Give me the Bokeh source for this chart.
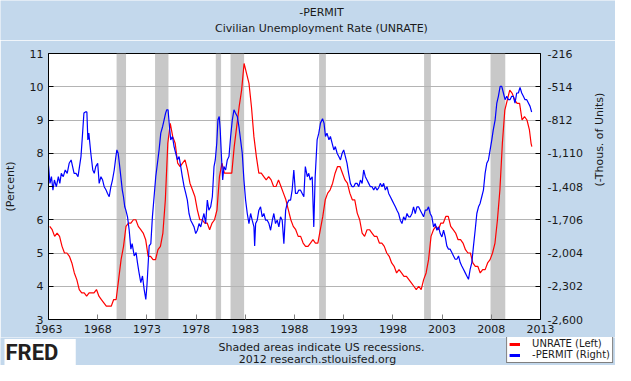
import numpy as np
from bokeh.plotting import figure
from bokeh.layouts import column
from bokeh.models import (Range1d, LinearAxis, FixedTicker, NumeralTickFormatter,
                          PrintfTickFormatter, Label, Legend, LegendItem)
from bokeh.embed import file_html
from bokeh.resources import INLINE

# ---------------- data ----------------
title_top = "-PERMIT"
title_bottom = "Civilian Unemployment Rate (UNRATE)"
left_label = "(Percent)"
right_label = "(-Thous. of Units)"
footer1 = "Shaded areas indicate US recessions."
footer2 = "2012 research.stlouisfed.org"
series_names = ["UNRATE (Left)", "-PERMIT (Right)"]

year_ticks = [1963, 1968, 1973, 1978, 1983, 1988, 1993, 1998, 2003, 2008, 2013]
left_ticks = [3, 4, 5, 6, 7, 8, 9, 10, 11]
right_ticks = [-2600, -2302, -2004, -1706, -1408, -1110, -812, -514, -216]

# UNRATE, quarterly values 1963Q1 .. 2011Q4, then early 2012 months
unrate_first_year = 1963
unrate_q = [
    5.8, 5.7, 5.5, 5.6,  5.5, 5.2, 5.0, 5.0,  4.9, 4.7, 4.4, 4.2,  3.9, 3.8, 3.8, 3.7,
    3.8, 3.8, 3.8, 3.9,  3.7, 3.6, 3.5, 3.4,  3.4, 3.4, 3.6, 3.6,  4.2, 4.8, 5.2, 5.8,
    5.9, 5.9, 6.0, 6.0,  5.8, 5.7, 5.6, 5.4,  4.9, 4.9, 4.8, 4.8,  5.1, 5.2, 5.6, 6.6,
    8.3, 8.9, 8.5, 8.3,  7.7, 7.6, 7.7, 7.8,  7.5, 7.1, 6.9, 6.7,  6.3, 6.0, 6.0, 5.9,
    5.9, 5.7, 5.9, 6.0,  6.3, 7.3, 7.7, 7.4,  7.4, 7.4, 7.4, 8.2,  8.8, 9.4, 9.9, 10.7,
    10.4, 10.1, 9.4, 8.5, 7.9, 7.4, 7.4, 7.3, 7.2, 7.3, 7.2, 7.0,  7.0, 7.2, 7.0, 6.8,
    6.6, 6.3, 6.0, 5.8,  5.7, 5.5, 5.5, 5.3,  5.2, 5.2, 5.3, 5.4,  5.3, 5.3, 5.7, 6.1,
    6.6, 6.8, 6.9, 7.1,  7.4, 7.6, 7.6, 7.4,  7.2, 7.1, 6.8, 6.6,  6.6, 6.2, 6.0, 5.6,
    5.5, 5.7, 5.7, 5.6,  5.5, 5.5, 5.3, 5.3,  5.2, 5.0, 4.9, 4.7,  4.6, 4.4, 4.5, 4.4,
    4.3, 4.3, 4.2, 4.1,  4.0, 3.9, 4.0, 3.9,  4.2, 4.4, 4.8, 5.5,  5.7, 5.8, 5.7, 5.9,
    5.9, 6.1, 6.1, 5.8,  5.7, 5.6, 5.4, 5.4,  5.3, 5.1, 5.0, 5.0,  4.7, 4.6, 4.6, 4.4,
    4.5, 4.5, 4.7, 4.8,  5.0, 5.3, 6.0, 6.9,  8.3, 9.3, 9.6, 9.9,  9.8, 9.6, 9.5, 9.5,
    9.0, 9.1, 9.0, 8.7,
]
unrate_tail_dates = [2012.04, 2012.12]
unrate_tail = [8.3, 8.2]

# -PERMIT (thousands of units, negated)
permit_dates = [
    1963.00, 1963.15, 1963.30, 1963.45, 1963.60, 1963.80, 1964.00, 1964.15, 1964.30, 1964.50,
    1964.70, 1964.90, 1965.10, 1965.30, 1965.45, 1965.60, 1965.80, 1966.00, 1966.15, 1966.30,
    1966.45, 1966.60, 1966.75, 1966.90, 1967.00, 1967.10, 1967.30, 1967.50, 1967.65, 1967.80,
    1968.00, 1968.15, 1968.33, 1968.50, 1968.66, 1968.85, 1969.00, 1969.17, 1969.34, 1969.50,
    1969.68, 1969.85, 1969.95, 1970.08, 1970.20, 1970.35, 1970.50, 1970.62, 1970.75, 1970.86,
    1971.03, 1971.20, 1971.37, 1971.50, 1971.71, 1971.90, 1972.04, 1972.20, 1972.38, 1972.55,
    1972.72, 1972.89, 1973.00, 1973.06, 1973.23, 1973.40, 1973.56, 1973.73, 1973.90, 1974.07,
    1974.24, 1974.41, 1974.60, 1974.75, 1974.90, 1975.02, 1975.15, 1975.29, 1975.42, 1975.60,
    1975.76, 1975.93, 1976.10, 1976.27, 1976.44, 1976.60, 1976.78, 1976.95, 1977.11, 1977.28,
    1977.45, 1977.62, 1977.79, 1977.96, 1978.13, 1978.30, 1978.47, 1978.63, 1978.80, 1978.97,
    1979.14, 1979.30, 1979.48, 1979.65, 1979.82, 1979.95, 1980.10, 1980.22, 1980.35, 1980.45,
    1980.56, 1980.70, 1980.83, 1981.00, 1981.17, 1981.34, 1981.51, 1981.68, 1981.85, 1982.00,
    1982.19, 1982.35, 1982.52, 1982.69, 1982.86, 1983.03, 1983.20, 1983.37, 1983.54, 1983.70,
    1983.88, 1983.95, 1984.05, 1984.21, 1984.38, 1984.55, 1984.72, 1984.89, 1985.06, 1985.23,
    1985.40, 1985.57, 1985.75, 1985.90, 1986.07, 1986.24, 1986.41, 1986.58, 1986.75, 1986.92,
    1987.10, 1987.26, 1987.43, 1987.60, 1987.76, 1987.93, 1988.10, 1988.27, 1988.44, 1988.60,
    1988.78, 1988.95, 1989.10, 1989.30, 1989.45, 1989.60, 1989.80, 1989.96, 1990.10, 1990.30,
    1990.47, 1990.64, 1990.85, 1991.00, 1991.15, 1991.30, 1991.50, 1991.65, 1991.82, 1992.00,
    1992.15, 1992.33, 1992.50, 1992.67, 1992.84, 1993.00, 1993.17, 1993.34, 1993.50, 1993.68,
    1993.85, 1994.02, 1994.19, 1994.36, 1994.53, 1994.70, 1994.87, 1995.03, 1995.20, 1995.37,
    1995.54, 1995.71, 1995.88, 1996.05, 1996.22, 1996.38, 1996.55, 1996.72, 1996.89, 1997.06,
    1997.23, 1997.40, 1997.57, 1997.74, 1997.91, 1998.08, 1998.25, 1998.41, 1998.58, 1998.75,
    1998.92, 1999.09, 1999.26, 1999.43, 1999.60, 1999.77, 1999.94, 2000.10, 2000.27, 2000.44,
    2000.61, 2000.78, 2000.95, 2001.12, 2001.29, 2001.46, 2001.62, 2001.79, 2001.96, 2002.13,
    2002.30, 2002.47, 2002.64, 2002.81, 2002.98, 2003.15, 2003.32, 2003.48, 2003.65, 2003.82,
    2003.99, 2004.16, 2004.33, 2004.50, 2004.67, 2004.84, 2005.00, 2005.17, 2005.34, 2005.51,
    2005.68, 2005.85, 2006.02, 2006.19, 2006.36, 2006.53, 2006.70, 2006.86, 2007.03, 2007.20,
    2007.37, 2007.54, 2007.71, 2007.88, 2008.05, 2008.20, 2008.39, 2008.56, 2008.72, 2008.90,
    2009.06, 2009.23, 2009.40, 2009.57, 2009.74, 2009.90, 2010.07, 2010.24, 2010.41, 2010.58,
    2010.75, 2010.92, 2011.09, 2011.26, 2011.43, 2011.60, 2011.77, 2011.94, 2012.10,
]
neg_permit = [
    -1220, -1380, -1320, -1440, -1350, -1410, -1320, -1380, -1290, -1320,
    -1260, -1290, -1200, -1170, -1230, -1290, -1290, -1320, -1230, -1140,
    -950, -750, -740, -740, -990, -930, -1110, -1260, -1290, -1230,
    -1200, -1380, -1320, -1350, -1410, -1440, -1470, -1500, -1410, -1350,
    -1260, -1140, -1080, -1110, -1200, -1320, -1440, -1500, -1590, -1620,
    -1680, -1800, -1970, -1920, -2030, -2000, -2090, -2180, -2270, -2210,
    -2330, -2420, -2300, -2210, -1940, -1920, -1680, -1500, -1320, -1200,
    -1080, -930, -870, -810, -750, -720, -720, -870, -990, -960,
    -1050, -1110, -1170, -1140, -1230, -1320, -1410, -1470, -1530, -1650,
    -1710, -1740, -1770, -1830, -1800, -1740, -1770, -1710, -1650, -1740,
    -1530, -1620, -1590, -1500, -1230, -1170, -1020, -810, -780, -900,
    -1110, -1350, -1230, -1260, -1170, -1140, -960, -810, -720, -750,
    -780, -870, -990, -1110, -1350, -1530, -1650, -1740, -1650, -1710,
    -1770, -1940, -1740, -1710, -1620, -1590, -1680, -1650, -1710, -1710,
    -1740, -1800, -1710, -1650, -1740, -1710, -1770, -1680, -1710, -1920,
    -1620, -1560, -1530, -1530, -1440, -1260, -1470, -1470, -1440, -1440,
    -1470, -1500, -1230, -1320, -1290, -1350, -1320, -1770, -1320, -990,
    -930, -840, -800, -840, -960, -930, -990, -960, -1020, -1080,
    -1050, -1110, -1140, -1170, -1110, -1080, -1140, -1200, -1290, -1380,
    -1410, -1410, -1380, -1380, -1410, -1350, -1380, -1260, -1320, -1350,
    -1380, -1410, -1410, -1440, -1410, -1440, -1420, -1380, -1410, -1380,
    -1440, -1410, -1470, -1500, -1530, -1560, -1590, -1620, -1650, -1710,
    -1740, -1680, -1710, -1650, -1680, -1680, -1650, -1590, -1650, -1590,
    -1590, -1620, -1650, -1680, -1620, -1620, -1590, -1650, -1680, -1770,
    -1740, -1800, -1770, -1830, -1860, -1800, -1860, -1940, -1970, -1970,
    -2000, -2030, -2060, -2060, -2030, -2090, -2120, -2150, -2180, -2210,
    -2240, -2150, -2090, -1940, -1800, -1650, -1590, -1560, -1500, -1440,
    -1290, -1200, -1170, -1080, -990, -900, -810, -660, -600, -510,
    -510, -570, -630, -600, -630, -630, -600, -600, -660, -570,
    -570, -520, -570, -600, -630, -630, -660, -690, -740,
]

recession_start = [1969.92, 1973.83, 1980.00, 1981.50, 1990.50, 2001.17, 2007.92]
recession_end = [1970.88, 1975.19, 1980.54, 1982.88, 1991.19, 2001.86, 2009.42]

# ---------------- styling ----------------
BG = "#C3D8EC"
GRID = "#B4B4B4"
REC = "#C8C8C8"
FONT = "DejaVu Sans"
TXT = "#1a1a1a"

W = 615
TOP_H, MAIN_H, BOT_H = 40, 297, 28
X0, X1 = 1963, 2013
Y0, Y1 = 3, 11


def strip(h, y_top):
    """A band of the canvas whose frame fills it; data units equal page pixels."""
    s = figure(width=W, height=h, output_backend="svg", toolbar_location=None,
               x_range=Range1d(0, W), y_range=Range1d(y_top + h, y_top),
               x_axis_type=None, y_axis_type=None, frame_align=False,
               min_border_left=0, min_border_right=0, min_border_top=0, min_border_bottom=0)
    s.outline_line_color = None
    s.background_fill_color = BG
    s.border_fill_color = BG
    return s


def text(fig, txt, x, y, size="11px", **kw):
    fig.add_layout(Label(x=x, y=y, text=txt, text_font=FONT, text_font_size=size,
                         text_color=TXT, text_align="center", text_baseline="middle", **kw))


# ---- top band: titles ----
top = strip(TOP_H, 0)
text(top, title_top, 321, 12)
text(top, title_bottom, 321, 28)

# ---- main chart ----
p = figure(width=W, height=MAIN_H, output_backend="svg", toolbar_location=None,
           x_range=Range1d(X0, X1), y_range=Range1d(Y0, Y1), frame_align=False,
           min_border_left=48, min_border_right=74, min_border_top=13, min_border_bottom=18)
p.border_fill_color = BG
p.background_fill_color = "white"
p.outline_line_color = "black"
p.outline_line_width = 1
p.extra_y_ranges = {"permit": Range1d(right_ticks[0], right_ticks[-1])}

p.quad(left=recession_start, right=recession_end, bottom=Y0, top=Y1,
       fill_color=REC, line_color=None, level="underlay")

ux = [unrate_first_year + 0.25 * i + 0.125 for i in range(len(unrate_q))] + unrate_tail_dates
uy = list(unrate_q) + unrate_tail
p.line(ux, uy, line_color="#FF0000", line_width=1.2)
p.line(permit_dates, neg_permit, line_color="#0000FF", line_width=1.2, y_range_name="permit")

p.xgrid.visible = False
p.ygrid.ticker = FixedTicker(ticks=left_ticks[1:-1])
p.ygrid.grid_line_color = GRID

xa = p.xaxis[0]
xa.ticker = FixedTicker(ticks=year_ticks)
xa.formatter = PrintfTickFormatter(format="%d")
xa.major_tick_in = 5
xa.major_tick_out = 0
xa.major_tick_line_color = "#808080"
xa.major_label_standoff = 5

ya = p.yaxis[0]
ya.ticker = FixedTicker(ticks=left_ticks)
ya.major_tick_in = 5
ya.major_tick_out = 0
ya.major_tick_line_color = "black"
ya.major_label_standoff = 5
ya.axis_label = left_label
ya.axis_label_standoff = 10

ra = LinearAxis(y_range_name="permit", ticker=FixedTicker(ticks=right_ticks),
                formatter=NumeralTickFormatter(format="0,0"))
ra.major_tick_in = 5
ra.major_tick_out = 0
ra.major_tick_line_color = "black"
ra.major_label_standoff = 7
ra.axis_label = right_label
ra.axis_label_standoff = 14
ra.axis_label_orientation = np.pi / 2
p.add_layout(ra, "right")

for a in (xa, ya, ra):
    a.minor_tick_line_color = None
    a.axis_line_color = "black"
    a.major_label_text_font = FONT
    a.major_label_text_font_size = "11px"
    a.major_label_text_color = TXT
    a.axis_label_text_font = FONT
    a.axis_label_text_font_size = "11px"
    a.axis_label_text_font_style = "normal"
    a.axis_label_text_color = TXT

# ---- bottom band: logo, source notes, legend ----
bot = strip(BOT_H, TOP_H + MAIN_H)
bot.add_layout(Label(x=4, y=352, text="FRED\u00a0\u00a0\u00a0", text_font="Roboto",
                     text_font_style="bold", text_font_size="22px", text_color="#231F20",
                     text_align="left", text_baseline="middle",
                     background_fill_color="white", padding=1))
text(bot, footer1, 321, 347)
text(bot, footer2, 317, 359)

# legend proxies: one missing point each, so nothing is drawn in the band itself
d_un = bot.line([np.nan], [np.nan], line_color="#FF0000", line_width=3)
d_pm = bot.line([np.nan], [np.nan], line_color="#0000FF", line_width=3)
legend = Legend(items=[LegendItem(label=series_names[0], renderers=[d_un]),
                       LegendItem(label=series_names[1], renderers=[d_pm])],
                location="bottom_right", orientation="vertical",
                label_text_font=FONT, label_text_font_size="10px", label_text_color=TXT,
                label_height=10, glyph_height=10, glyph_width=11, label_standoff=12,
                spacing=0, padding=2, margin=2,
                border_line_color="black", border_line_width=1,
                background_fill_color="white", background_fill_alpha=1.0)
bot.add_layout(legend, "center")

layout = column(top, p, bot, spacing=0)
open("out.html", "w").write(file_html(layout, INLINE))
